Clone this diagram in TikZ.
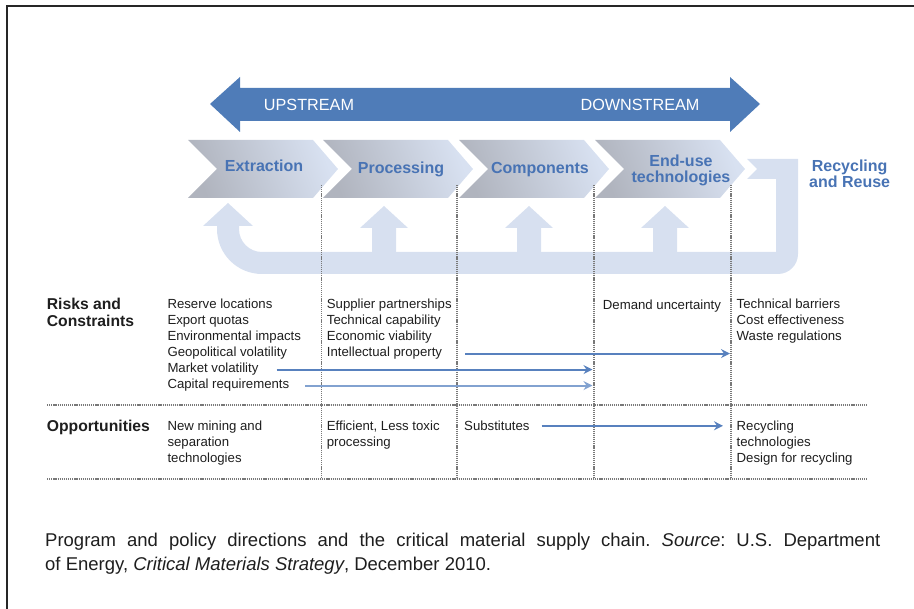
\documentclass[tikz,border=0pt]{standalone}
\usepackage{fontspec}
\setmainfont{Liberation Sans}
\usetikzlibrary{arrows.meta}
\frenchspacing
\definecolor{bigblue}{RGB}{79,124,184}
\definecolor{loopblue}{RGB}{215,224,240}
\definecolor{lblue}{RGB}{72,115,180}
\definecolor{lineblue}{RGB}{88,129,190}
\definecolor{lineblueL}{RGB}{130,162,208}
\definecolor{chevgray}{RGB}{176,180,190}
\definecolor{chevlight}{RGB}{216,225,241}
\definecolor{dotgray}{RGB}{120,120,120}
\definecolor{txt}{RGB}{30,30,30}
\begin{document}
\begin{tikzpicture}[x=1pt,y=-1pt,
  body/.style={font=\fontsize{13.2}{16}\selectfont, text=txt, inner sep=0pt, anchor=base west, align=left},
  headtxt/.style={font=\fontsize{15.7}{17}\selectfont\bfseries, text=txt, inner sep=0pt, anchor=base west, align=left},
  chevlabel/.style={font=\fontsize{16}{16}\selectfont\bfseries, text=lblue, inner sep=0pt, align=center, anchor=base},
  stream/.style={font=\fontsize{16.2}{17}\selectfont, text=white, inner sep=0pt},
  dotline/.style={draw=dotgray, line width=1.1pt, dash pattern=on 1.2pt off 0.9pt},
  flow/.style={draw=lineblue, line width=2.1pt, -{Stealth[length=9pt,width=9pt,inset=3pt]}},
  flowL/.style={flow, draw=lineblueL},
  chev/.style={left color=chevgray, right color=chevlight, shading angle=110},
  captxt/.style={font=\fontsize{18.5}{24}\selectfont, text=txt, inner sep=0pt, anchor=base west, align=left}
]
\useasboundingbox (0,0) rectangle (914,609);
\draw[line width=1.3pt, draw=black!85] (7,609) -- (7,6) -- (914,6);

% big double arrow
\fill[bigblue] (210,104) -- (240,77) -- (240,88) -- (730,88) -- (730,77) -- (760,104) -- (730,132) -- (730,121) -- (240,121) -- (240,132) -- cycle;
\node[stream] (up) at (309,105) {UPSTREAM};
\node[stream] (down) at (640,105) {DOWNSTREAM};

% recycling loop
\fill[loopblue] (228,203) -- (253,226) -- (239,226) -- (239,229)
  .. controls (239,241.7) and (249.3,252) .. (262,252) -- (776,252) -- (776,179)
  -- (747,179) -- (757,169) -- (747,159) -- (798,159) -- (798,254)
  .. controls (798,265) and (789,274) .. (778,274) -- (262,274)
  .. controls (237.1,274) and (217,253.9) .. (217,229) -- (217,226) -- (203,226) -- cycle;
\foreach \c in {384,529,665}
  \fill[loopblue] (\c,206) -- (\c+24,228) -- (\c+12,228) -- (\c+12,253) -- (\c-12,253) -- (\c-12,228) -- (\c-24,228) -- cycle;

% chevrons
\foreach \L in {188,323,459,595}
  \shade[chev] (\L,140) -- (\L+125,140) -- (\L+150,169) -- (\L+125,198) -- (\L,198) -- (\L+29,169) -- cycle;
\node[chevlabel] (extr) at (264,172) {Extraction};
\node[chevlabel] (proc) at (401,173.5) {Processing};
\node[chevlabel] (comp) at (540,173.5) {Components};
\node[chevlabel] (endu) at (681,183) {End-use\\technologies};
\node[chevlabel, anchor=base west] (recy) at (809,187.7) {Recycling\\and Reuse};

% grid lines
\coordinate (v2t) at (321.5,185); \coordinate (v2b) at (321.5,479);
\coordinate (v3t) at (457,185);   \coordinate (v3b) at (457,479);
\coordinate (v4t) at (594,185);   \coordinate (v4b) at (594,479);
\coordinate (v5t) at (731,185);   \coordinate (v5b) at (731,479);
\coordinate (h1l) at (47,405); \coordinate (h1r) at (867,405);
\coordinate (h2l) at (47,479); \coordinate (h2r) at (867,479);
\draw[dotline] (v2t) -- (v2b);
\draw[dotline] (v3t) -- (v3b);
\draw[dotline] (v4t) -- (v4b);
\draw[dotline] (v5t) -- (v5b);
\draw[dotline] (h1l) -- (h1r);
\draw[dotline] (h2l) -- (h2r);

% risks (base anchor = last line's baseline)
\node[headtxt] (risk) at (46.7,327) {Risks and\\Constraints};
\node[body] (r1) at (167.3,357) {Reserve locations\\Export quotas\\Environmental impacts\\Geopolitical volatility};
\node[body] (mv) at (167.3,373) {Market volatility};
\node[body] (cr) at (167.3,389) {Capital requirements};
\node[body] (r2) at (326.7,341) {Supplier partnerships\\Technical capability\\Economic viability};
\node[body] (ip) at (326.7,357) {Intellectual property};
\node[body] (du) at (602.7,309.3) {Demand uncertainty};
\node[body] (r5) at (736.5,341) {Technical barriers\\Cost effectiveness\\Waste regulations};

% opportunities
\node[headtxt] (opp) at (46.7,432) {Opportunities};
\node[body] (o1) at (167.3,463) {New mining and\\separation\\technologies};
\node[body] (o2) at (326.7,447) {Efficient, Less toxic\\processing};
\node[body] (sub) at (464,430.5) {Substitutes};
\node[body] (o5) at (736.5,463) {Recycling\\technologies\\Design for recycling};

% flow arrows
\draw[flow, shorten <=23pt, shorten >=1pt] (ip.east) -- (ip.east -| v5t);
\draw[flow, shorten <=18pt, shorten >=1.5pt] (mv.east) -- (mv.east -| v4t);
\draw[flowL, shorten <=16pt, shorten >=1.5pt] (cr.east) -- (cr.east -| v4t);
\draw[flow, shorten <=12pt, shorten >=8pt] (sub.east) -- (sub.east -| v5t);

% caption (justified first line)
\node[captxt] (cap) at (45,571) {\makebox[835pt][s]{Program and policy directions and the critical material supply chain. \textit{Source}: U.S. Department}\\of Energy, \textit{Critical Materials Strategy}, December 2010.};
\end{tikzpicture}
\end{document}
